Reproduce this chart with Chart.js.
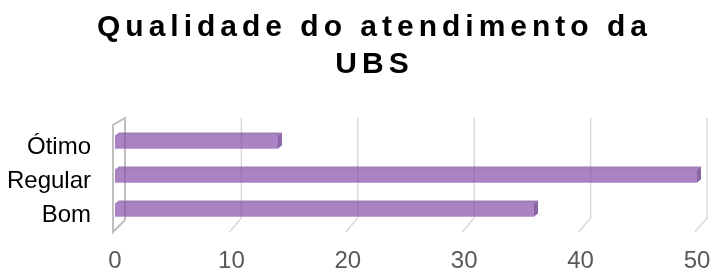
<!DOCTYPE html>
<html>
<head>
<meta charset="utf-8">
<script src="https://cdn.jsdelivr.net/npm/chart.js@4.4.1/dist/chart.umd.min.js"></script>
<style>
  body { margin: 0; background: #fff; }
  .wrap { position: relative; width: 710px; height: 271px; }
  .titulo {
    position: absolute; top: 7px; left: 0; width: 710px; box-sizing: border-box;
    padding-left: 39px; text-align: center;
    font: bold 30px "Liberation Sans", Arial, sans-serif;
    letter-spacing: 5px; line-height: 37px; color: #000;
  }
  canvas { position: absolute; top: 0; left: 0; }
</style>
</head>
<body>
<div class="wrap">
  <canvas id="grafico" width="710" height="271"></canvas>
  <div class="titulo">Qualidade do atendimento da<br>UBS</div>
</div>
<script>
const categorias = ['Ótimo', 'Regular', 'Bom']
const respostas = [14, 50, 36]
const ticksX = [0, 10, 20, 30, 40, 50]

// grade em "3D": linhas no fundo com pezinho diagonal e parede no zero
const grade3d = {
  id: 'grade3d',
  beforeDatasetsDraw(chart){
    const ctx = chart.ctx
    const xs = chart.scales.x
    const { top, bottom } = chart.chartArea
    ctx.save()
    ctx.lineWidth = 1.5
    ctx.strokeStyle = '#d9d9d9'
    ticksX.forEach(v => {
      if(v === 0) return
      const frente = xs.getPixelForValue(v) - 2
      ctx.beginPath()
      ctx.moveTo(frente + 12, top - 7)
      ctx.lineTo(frente + 12, bottom - 9)
      ctx.lineTo(frente, bottom + 5)
      ctx.stroke()
    })
    const x0 = xs.getPixelForValue(0) - 2
    ctx.lineWidth = 2
    ctx.strokeStyle = '#bfbfbf'
    ctx.beginPath()
    ctx.moveTo(x0, top)
    ctx.lineTo(x0, bottom + 5)
    ctx.lineTo(x0 + 12, bottom - 7)
    ctx.lineTo(x0 + 12, top - 7)
    ctx.closePath()
    ctx.stroke()
    ctx.restore()
  }
}

// topo e lateral das barras
const barras3d = {
  id: 'barras3d',
  afterDatasetsDraw(chart){
    const ctx = chart.ctx
    ctx.save()
    chart.getDatasetMeta(0).data.forEach(bar => {
      const { x, y, base, height } = bar.getProps(['x', 'y', 'base', 'height'], true)
      const t = y - height / 2
      const b = y + height / 2
      ctx.fillStyle = 'rgba(125,78,160,0.72)'
      ctx.beginPath()
      ctx.moveTo(base, t)
      ctx.lineTo(x, t)
      ctx.lineTo(x + 4, t - 3)
      ctx.lineTo(base + 4, t - 3)
      ctx.closePath()
      ctx.fill()
      ctx.fillStyle = 'rgba(110,65,145,0.8)'
      ctx.beginPath()
      ctx.moveTo(x, t)
      ctx.lineTo(x + 4, t - 3)
      ctx.lineTo(x + 4, b - 3)
      ctx.lineTo(x, b)
      ctx.closePath()
      ctx.fill()
    })
    ctx.restore()
  }
}

const ctx = document.getElementById('grafico').getContext('2d')
new Chart(ctx, {
  type: 'bar',
  data: {
    labels: categorias,
    datasets: [
      {
        label: '',
        data: respostas,
        backgroundColor: 'rgba(135,79,171,0.7)',
        borderWidth: 0,
        barThickness: 13,
      }
    ]
  },
  options: {
    indexAxis: 'y',
    responsive: false,
    animation: false,
    devicePixelRatio: 1,
    layout: { padding: { top: 125, left: 8, right: 0, bottom: 0 } },
    scales: {
      x: {
        min: 0,
        max: 50,
        afterBuildTicks: axis => { axis.ticks = ticksX.map(v => ({ value: v })) },
        afterFit: axis => {
          axis.height = 44
          axis.paddingLeft = 0
          axis.paddingRight = 13
        },
        grid: { display: false, drawTicks: false },
        border: { display: false },
        ticks: {
          padding: 20,
          color: '#595959',
          font: { family: 'Liberation Sans', size: 24 }
        }
      },
      y: {
        afterFit: axis => {
          axis.width = 107
          axis.paddingTop = 0
          axis.paddingBottom = 0
        },
        grid: { display: false, drawTicks: false },
        border: { display: false },
        ticks: {
          autoSkip: false,
          padding: 24,
          labelOffset: 5,
          color: '#000',
          font: { family: 'Liberation Sans', size: 24 }
        }
      }
    },
    plugins: {
      legend: { display: false },
      tooltip: { enabled: false }
    }
  },
  plugins: [grade3d, barras3d]
})
</script>
</body>
</html>
